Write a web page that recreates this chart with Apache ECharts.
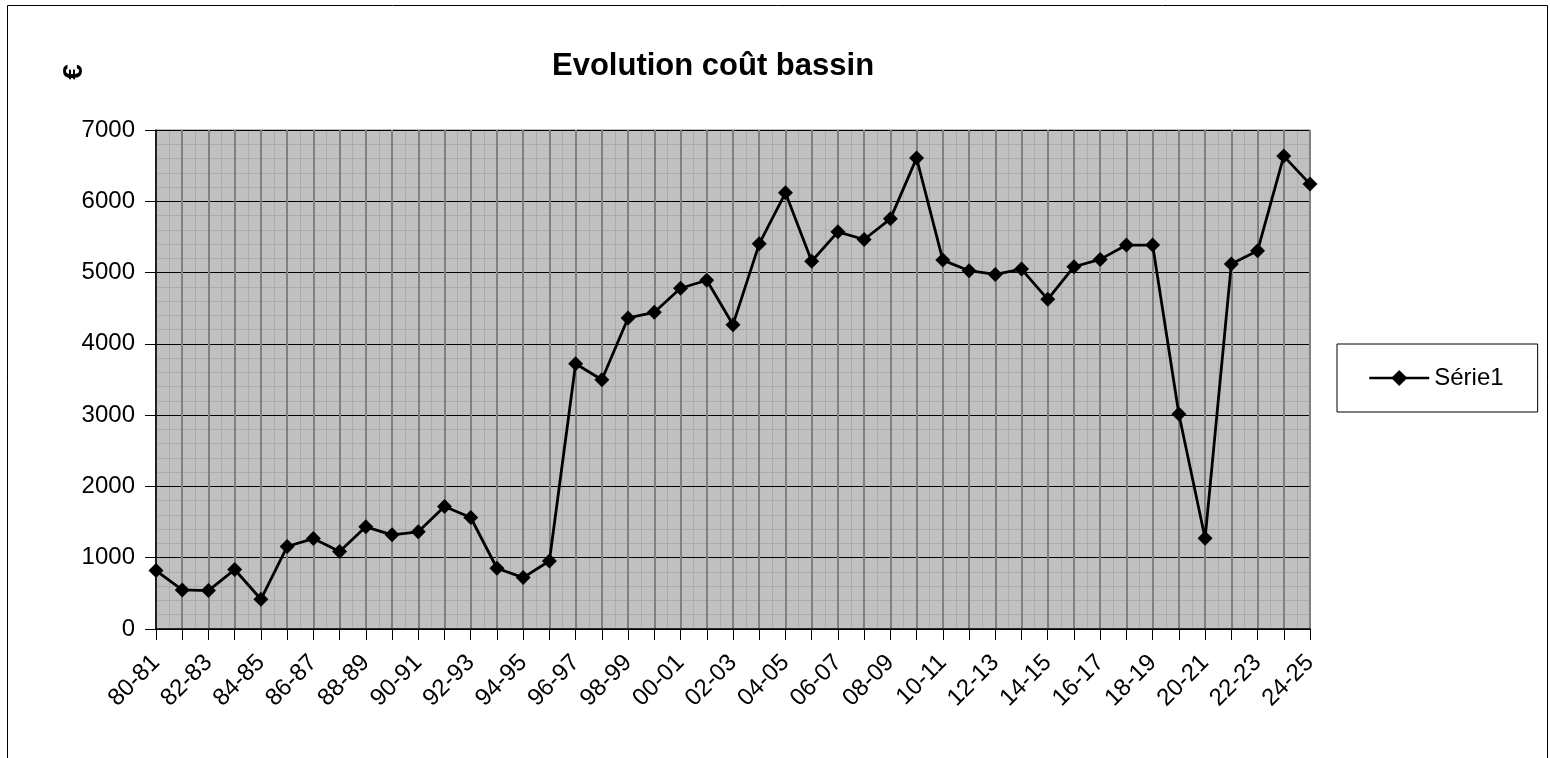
<!DOCTYPE html>
<html>
<head>
<meta charset="utf-8">
<title>Evolution coût bassin</title>
<script src="https://cdn.jsdelivr.net/npm/echarts@6/dist/echarts.min.js"></script>
<style>
  html, body { margin: 0; padding: 0; background: #fff; }
  #chart { width: 1550px; height: 758px; }
</style>
</head>
<body>
<div id="chart"></div>
<script>
const categories = [
  '80-81', '81-82', '82-83', '83-84', '84-85', '85-86', '86-87', '87-88', '88-89', '89-90',
  '90-91', '91-92', '92-93', '93-94', '94-95', '95-96', '96-97', '97-98', '98-99', '99-00',
  '00-01', '01-02', '02-03', '03-04', '04-05', '05-06', '06-07', '07-08', '08-09', '09-10',
  '10-11', '11-12', '12-13', '13-14', '14-15', '15-16', '16-17', '17-18', '18-19', '19-20',
  '20-21', '21-22', '22-23', '23-24', '24-25'
]

const serie1 = [
  820, 548, 539, 834, 417, 1157, 1269, 1087, 1433, 1321,
  1363, 1719, 1564, 852, 721, 954, 3721, 3496, 4363, 4443,
  4780, 4892, 4269, 5403, 6119, 5159, 5571, 5464, 5754, 6606,
  5175, 5026, 4974, 5049, 4624, 5082, 5185, 5386, 5386, 3015,
  1272, 5119, 5306, 6634, 6241
]

const yMin = 0
const yMax = 7000
const yStep = 1000

const font = "'Liberation Sans', Arial, sans-serif"

const myChart = echarts.init(document.getElementById('chart'))

const option = {
  backgroundColor: '#fff',
  animation: false,
  textStyle: { fontFamily: font, color: '#000' },
  title: {
    text: 'Evolution coût bassin',
    left: 552,
    top: 51,
    padding: 0,
    textStyle: { fontFamily: font, fontSize: 31, fontWeight: 'bold', color: '#000' }
  },
  graphic: [
    {
      type: 'rect',
      silent: true,
      shape: { x: 7.5, y: 5.5, width: 1540, height: 800 },
      style: { fill: 'none', stroke: '#000', lineWidth: 1 }
    },
    {
      type: 'text',
      silent: true,
      x: 74,
      y: 72,
      rotation: Math.PI / 2,
      style: {
        text: '€',
        font: "bold 28px 'Liberation Sans', Arial, sans-serif",
        fill: '#000',
        align: 'center',
        verticalAlign: 'middle'
      }
    }
  ],
  legend: {
    left: 1337,
    top: 344,
    orient: 'vertical',
    padding: [22, 34, 22, 31],
    backgroundColor: '#fff',
    borderColor: '#000',
    borderWidth: 1,
    borderRadius: 0,
    itemWidth: 60,
    itemHeight: 20,
    lineStyle: { width: 2.5 },
    textStyle: { fontFamily: font, fontSize: 24, color: '#000' },
    data: ['Série1']
  },
  grid: {
    left: 156,
    right: 240,
    top: 130,
    bottom: 129,
    show: true,
    backgroundColor: '#c0c0c0',
    borderColor: '#808080',
    borderWidth: 1
  },
  xAxis: [
    {
      type: 'category',
      data: categories,
      boundaryGap: false,
      z: 1,
      axisLine: { lineStyle: { color: '#000', width: 1.5 } },
      axisTick: { interval: 0, length: 11, lineStyle: { color: '#000' } },
      axisLabel: {
        interval: 1,
        rotate: 45,
        margin: 30,
        fontFamily: font,
        fontSize: 24,
        color: '#000'
      },
      splitLine: { show: true, interval: 0, lineStyle: { color: '#808080', width: 2 } }
    },
    {
      type: 'value',
      min: 0,
      max: categories.length - 1,
      interval: 0.5,
      show: true,
      z: 0,
      axisLine: { show: false },
      axisTick: { show: false },
      axisLabel: { show: false },
      splitLine: { show: true, lineStyle: { color: '#ababab', width: 1 } }
    }
  ],
  yAxis: {
    type: 'value',
    min: yMin,
    max: yMax,
    interval: yStep,
    z: 1,
    axisLine: { show: true, lineStyle: { color: '#000', width: 1.5 } },
    axisTick: { show: true, length: 11, lineStyle: { color: '#000' } },
    axisLabel: {
      margin: 21,
      fontFamily: font,
      fontSize: 24,
      color: '#000',
      formatter: (v) => String(v)
    },
    splitLine: { show: true, lineStyle: { color: '#000', width: 1 } },
    minorTick: { show: false, splitNumber: 5 },
    minorSplitLine: { show: true, lineStyle: { color: '#ababab', width: 1 } }
  },
  series: [
    {
      name: 'Série1',
      type: 'line',
      xAxisIndex: 0,
      data: serie1,
      symbol: 'diamond',
      symbolSize: 15,
      showAllSymbol: true,
      z: 3,
      itemStyle: { color: '#000' },
      lineStyle: { color: '#000', width: 2.8 }
    }
  ]
}

myChart.setOption(option)

window.addEventListener('resize', () => {
  myChart.resize()
})
</script>
</body>
</html>
